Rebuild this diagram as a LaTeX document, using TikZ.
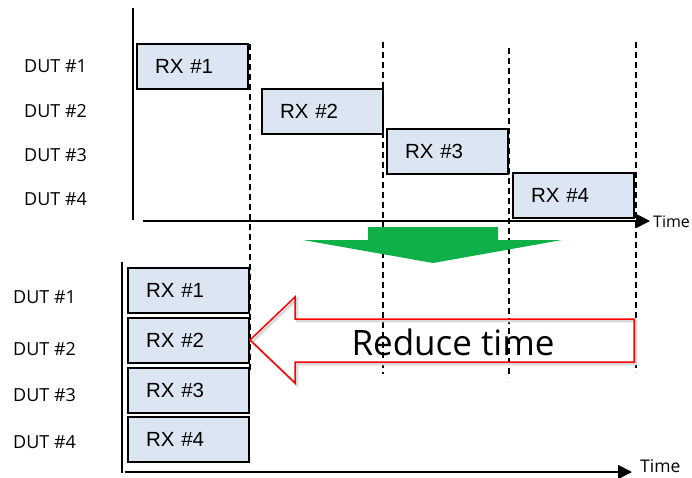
\documentclass[tikz,border=0pt]{standalone}
\usepackage{fontspec}
\setmainfont{Liberation Sans}
\newfontfamily\labelfont{Open Sans}
\usetikzlibrary{arrows.meta}
\definecolor{boxblue}{HTML}{DCE6F2}
\definecolor{arrgreen}{HTML}{10B048}
\tikzset{
  rxbox/.style={draw, fill=boxblue, line width=1.3pt, minimum height=45pt,
    text width=#1, inner xsep=18pt, align=left, font=\fontsize{20.5}{20.5}\selectfont},
  rxbox/.default=85pt,
  dutlabel/.style={anchor=west, inner sep=0pt, font=\labelfont\fontsize{18}{18}\selectfont},
  timeline/.style={line width=1.8pt, -{Triangle[length=14pt,width=14pt]}},
  marker/.style={line width=1.2pt, dash pattern=on 6pt off 4pt},
  timelabel/.style={anchor=west, inner sep=0pt, font=\labelfont\fontsize{17.5}{17.5}\selectfont},
}
\begin{document}
\begin{tikzpicture}[x=1pt, y=-1pt]
	\useasboundingbox (0,0) rectangle (692,478);
	% Sequential test
	\coordinate (topaxis) at (133,8);
	\coordinate (toporigin) at (133,220);
	\coordinate (topstart) at (143,221);
	\coordinate (topend) at (650,221);
	\draw[line width=1.5pt] (topaxis) -- (toporigin);
	\node[dutlabel] (tdut1) at (24,66) {DUT \#1};
	\node[dutlabel] (tdut2) at (24,111) {DUT \#2};
	\node[dutlabel] (tdut3) at (24,155) {DUT \#3};
	\node[dutlabel] (tdut4) at (24,199) {DUT \#4};
	% Time markers
	\draw[marker] (250,44) coordinate (m1a) -- (250,373) coordinate (m1b);
	\draw[marker] (383,42) coordinate (m2a) -- (383,374) coordinate (m2b);
	\draw[marker] (509,48) coordinate (m3a) -- (509,378) coordinate (m3b);
	\draw[marker] (636,42) coordinate (m4a) -- (636,372) coordinate (m4b);
	\node[rxbox=75pt] (trx1) at (192.5,66.5) {RX \#1};
	\node[rxbox] (trx2) at (322.5,111.5) {RX \#2};
	\node[rxbox] (trx3) at (447.5,151.5) {RX \#3};
	\node[rxbox] (trx4) at (573.5,195.5) {RX \#4};
	\draw[timeline] (topstart) -- (topend);
	\node[timelabel, font=\labelfont\fontsize{16}{16}\selectfont] (ttime) at (653,222) {Time};
	% Green arrow
	\fill[arrgreen] (368,227) -- (498,227) -- (498,240) -- (562,240) -- (433,263)
		-- (303,240) -- (368,240) -- cycle;
	% Parallel test
	\coordinate (botaxis) at (122,262);
	\coordinate (botorigin) at (122,473);
	\coordinate (botstart) at (125,472);
	\coordinate (botend) at (632,472);
	\draw[line width=1.5pt] (botaxis) -- (botorigin);
	\node[dutlabel] (bdut1) at (13,297) {DUT \#1};
	\node[dutlabel] (bdut2) at (13,349) {DUT \#2};
	\node[dutlabel] (bdut3) at (13,395) {DUT \#3};
	\node[dutlabel] (bdut4) at (13,442) {DUT \#4};
	\node[rxbox] (brx1) at (188.5,290.5) {RX \#1};
	\node[rxbox] (brx2) at (188.5,340.5) {RX \#2};
	\node[rxbox] (brx3) at (188.5,390.5) {RX \#3};
	\node[rxbox] (brx4) at (188.5,439.5) {RX \#4};
	\draw[timeline] (botstart) -- (botend);
	\node[timelabel] (btime) at (640,466) {Time};
	% Red arrow
	\draw[black!15, line width=2.5pt, line join=miter] (252,342) -- (297,299) -- (297,321) -- (636,321)
		-- (636,364) -- (297,364) -- (297,385) -- cycle;
	\draw[red, line width=1.5pt, line join=miter] (250,340) -- (295,297) -- (295,319) -- (634,319)
		-- (634,362) -- (295,362) -- (295,383) -- cycle;
	\node[font=\labelfont\fontsize{35}{35}\selectfont] (reduce) at (453,342) {Reduce time};
\end{tikzpicture}
\end{document}
